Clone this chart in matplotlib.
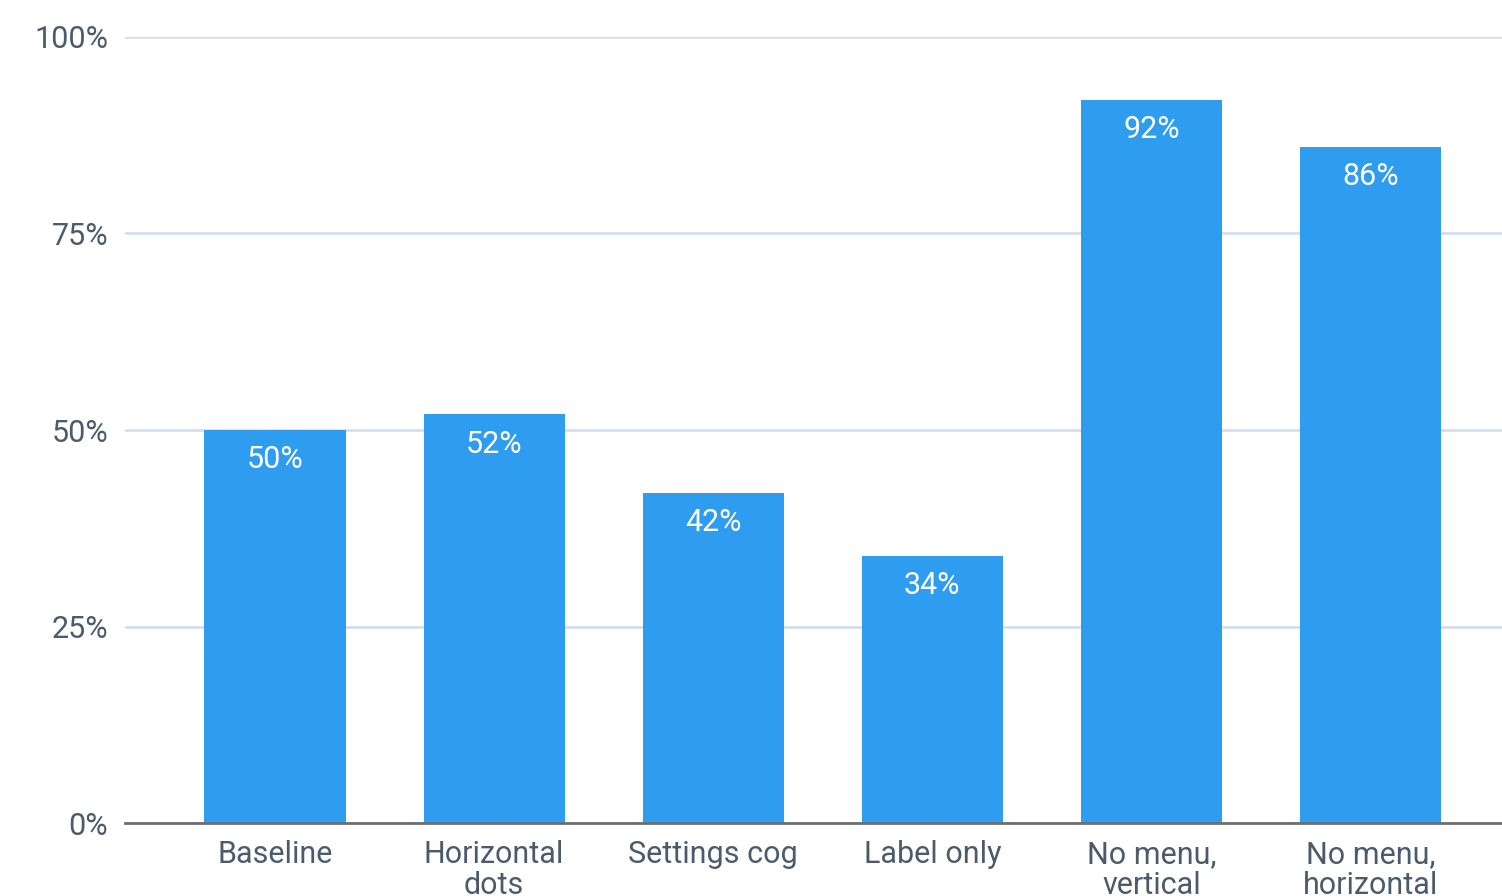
import matplotlib
matplotlib.use('Agg')
import matplotlib.pyplot as plt
from matplotlib.ticker import FuncFormatter

# ========== data ==========
categories = ['Baseline', 'Horizontal\ndots', 'Settings cog', 'Label only',
              'No menu,\nvertical', 'No menu,\nhorizontal']
values = [50, 52, 42, 34, 92, 86]
y_ticks = [0, 25, 50, 75, 100]

# ========== style ==========
BAR_COLOR = '#2E9CEF'
GRID_COLOR = '#CFDCEE'
TEXT_COLOR = '#4B5B6B'
AXIS_COLOR = '#6E6E6E'
FS = 22

plt.rcParams.update({
    'font.family': ['Roboto', 'DejaVu Sans'],
    'font.size': FS,
})

fig = plt.figure(figsize=(15.02, 8.96), dpi=100)
ax = fig.add_axes([125 / 1502, 73 / 896, 1 - 125 / 1502, 786 / 896])

x = list(range(len(categories)))
bars = ax.bar(x, values, width=0.645, color=BAR_COLOR, zorder=3)

for b, v in zip(bars, values):
    ax.annotate(f'{v}%', (b.get_x() + b.get_width() / 2, v),
                xytext=(0, -11), textcoords='offset points',
                ha='center', va='top', color='white', fontsize=FS, zorder=4)

ax.set_xlim(-0.685, 5.60)
ax.set_ylim(0, 100)
ax.set_yticks(y_ticks)
ax.yaxis.set_major_formatter(FuncFormatter(lambda v, p: f'{int(v)}%'))
ax.set_xticks(x)
ax.set_xticklabels(categories, linespacing=1.08)

ax.grid(axis='y', color=GRID_COLOR, linewidth=1.8, zorder=0)
ax.set_axisbelow(True)
for s in ['top', 'right', 'left']:
    ax.spines[s].set_visible(False)
ax.spines['bottom'].set_color(AXIS_COLOR)
ax.spines['bottom'].set_linewidth(2)
ax.spines['bottom'].set_zorder(5)

ax.tick_params(axis='both', length=0, colors=TEXT_COLOR, labelsize=FS)
ax.tick_params(axis='y', pad=12)
ax.tick_params(axis='x', pad=12)

fig.savefig('out.png', dpi=100)
